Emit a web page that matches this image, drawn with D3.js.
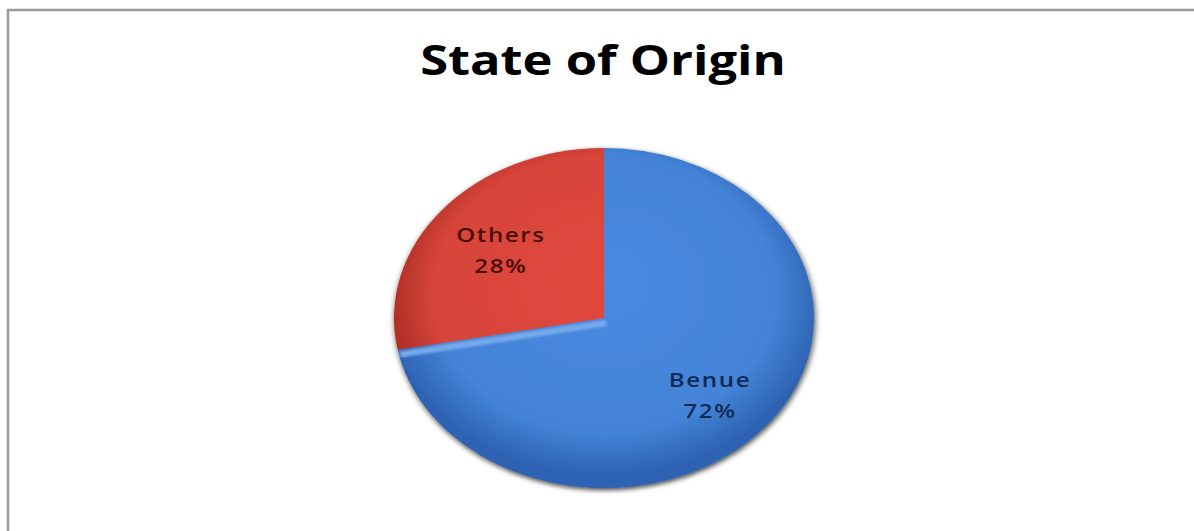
<!DOCTYPE html>
<html>
<head>
<meta charset="utf-8">
<script src="https://cdn.jsdelivr.net/npm/d3@7"></script>
<style>
  body { margin: 0; background: #fff; }
  svg { display: block; }
</style>
</head>
<body>
<div id="chart"></div>
<script>
// datos del grafico
const categorias = ["Benue", "Others"];
const porcentajes = [72, 28];
const colores = ["#4483d6", "#d6443a"];
const coloresOscuros = ["#2d62b2", "#a82a22"];
const coloresTexto = ["#0f2a55", "#4a0d08"];
const titulo = "State of Origin";

const width = 1194, height = 531;
const cx = 604, cy = 318, rx = 210, ry = 170;
const estirar = rx / ry; // la imagen original esta estirada en horizontal

const svg = d3.select("#chart")
  .append("svg")
  .attr("width", width)
  .attr("height", height);

const defs = svg.append("defs");

// sombra difusa del pastel
const sombra = defs.append("filter")
  .attr("id", "sombra")
  .attr("x", "-20%").attr("y", "-20%")
  .attr("width", "140%").attr("height", "140%");
sombra.append("feGaussianBlur").attr("in", "SourceAlpha").attr("stdDeviation", 2.5).attr("result", "b");
sombra.append("feOffset").attr("in", "b").attr("dx", 1).attr("dy", 2).attr("result", "o");
sombra.append("feComponentTransfer").attr("in", "o").attr("result", "s")
  .append("feFuncA").attr("type", "linear").attr("slope", 0.75);
const merge = sombra.append("feMerge");
merge.append("feMergeNode").attr("in", "s");
merge.append("feMergeNode").attr("in", "SourceGraphic");

const desenfoque = defs.append("filter").attr("id", "suave");
desenfoque.append("feGaussianBlur").attr("stdDeviation", 1.2);

categorias.forEach((c, i) => {
  const g = defs.append("radialGradient")
    .attr("id", "grad" + i)
    .attr("gradientUnits", "userSpaceOnUse")
    .attr("cx", 0).attr("cy", -20).attr("r", ry * 1.05)
    .attr("fx", 0).attr("fy", -40);
  g.append("stop").attr("offset", "0%").attr("stop-color", d3.color(colores[i]).brighter(0.15));
  g.append("stop").attr("offset", "78%").attr("stop-color", colores[i]);
  g.append("stop").attr("offset", "100%").attr("stop-color", coloresOscuros[i]);
});

// marco
svg.append("path")
  .attr("d", `M8,${height + 5} L8,10 L${width + 5},10`)
  .attr("fill", "none")
  .attr("stroke", "#9a9a9a")
  .attr("stroke-width", 2.5);

// titulo
svg.append("text")
  .attr("transform", `translate(603,75) scale(${estirar},1)`)
  .attr("text-anchor", "middle")
  .attr("font-family", "'Open Sans', sans-serif")
  .attr("font-weight", "bold")
  .attr("font-size", 41)
  .attr("fill", "#000")
  .text(titulo);

const datos = categorias.map((c, i) => ({ nombre: c, valor: porcentajes[i], i }));

const pie = d3.pie()
  .value(d => d.valor)
  .sort(null);

const arc = d3.arc()
  .innerRadius(0)
  .outerRadius(ry);

const arcos = pie(datos);

const gPie = svg.append("g")
  .attr("transform", `translate(${cx},${cy}) scale(${estirar},1)`)
  .attr("filter", "url(#sombra)");

gPie.selectAll("path.rebanada")
  .data(arcos)
  .join("path")
  .attr("class", "rebanada")
  .attr("d", arc)
  .attr("fill", d => `url(#grad${d.data.i})`);

// borde claro del bisel en el lado de Others
const bisel = arcos[1];
gPie.append("line")
  .attr("x1", 2).attr("y1", 0)
  .attr("x2", Math.sin(bisel.startAngle) * (ry - 2))
  .attr("y2", -Math.cos(bisel.startAngle) * (ry - 2))
  .attr("stroke", "#74a8ec")
  .attr("stroke-width", 6)
  .attr("filter", "url(#suave)")
  .attr("transform", "translate(0,5)");

// etiquetas (factores de colocacion horizontal / vertical por rebanada)
const kx = [0.655, 0.637];
const ky = [0.776, 0.563];
const posEtiquetas = arcos.map(d => {
  const a = (d.startAngle + d.endAngle) / 2;
  return [cx + Math.sin(a) * rx * kx[d.data.i], cy - Math.cos(a) * ry * ky[d.data.i]];
});

const etiquetas = svg.selectAll("g.etiqueta")
  .data(arcos)
  .join("g")
  .attr("class", "etiqueta")
  .attr("transform", (d, i) => `translate(${posEtiquetas[i][0]},${posEtiquetas[i][1]}) scale(${estirar},1)`);

etiquetas.append("text")
  .attr("text-anchor", "middle")
  .attr("y", -15)
  .attr("font-family", "'Open Sans', sans-serif")
  .attr("font-weight", 600)
  .attr("font-size", 19.5)
  .attr("letter-spacing", 1.3)
  .attr("fill", d => coloresTexto[d.data.i])
  .text(d => d.data.nombre);

etiquetas.append("text")
  .attr("text-anchor", "middle")
  .attr("y", 16)
  .attr("font-family", "'Open Sans', sans-serif")
  .attr("font-weight", 600)
  .attr("font-size", 19.5)
  .attr("letter-spacing", 1.3)
  .attr("fill", d => coloresTexto[d.data.i])
  .text(d => d.data.valor + "%");
</script>
</body>
</html>
